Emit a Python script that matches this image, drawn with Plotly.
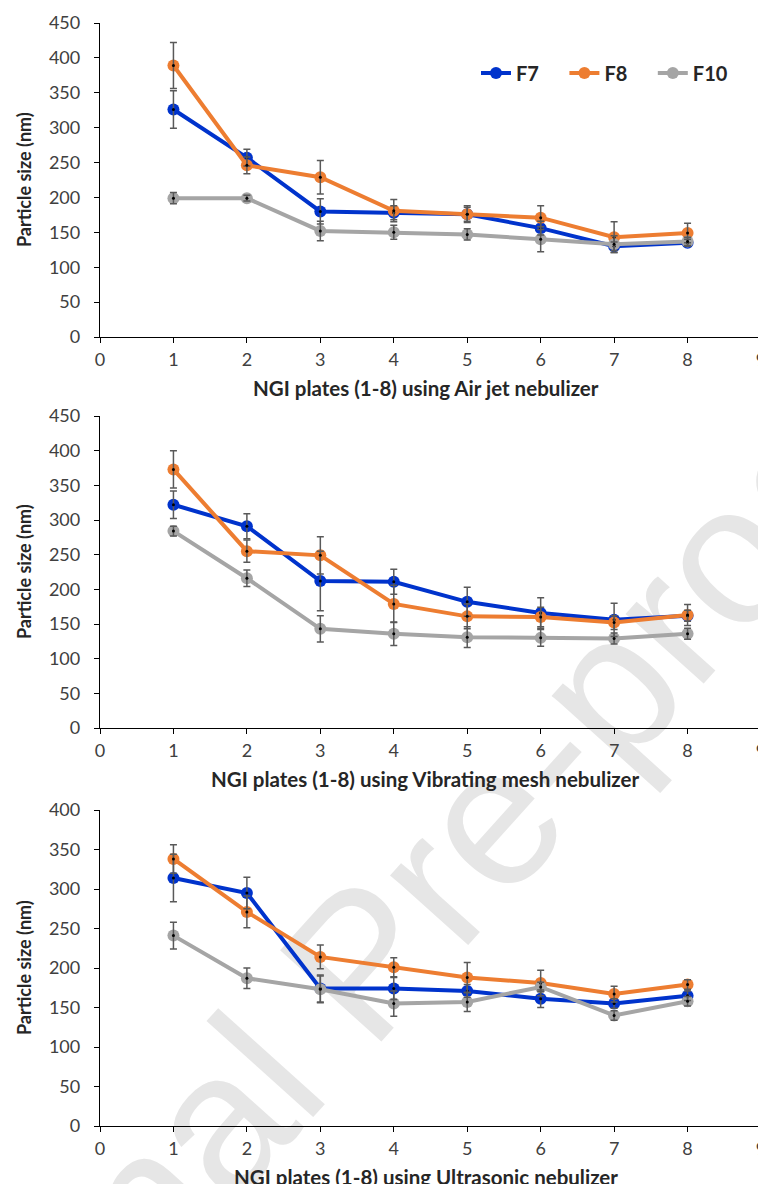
import plotly.graph_objects as go
from plotly.subplots import make_subplots

plates = [1, 2, 3, 4, 5, 6, 7, 8]
series_names = ["F7", "F8", "F10"]
colors = ["#0033CC", "#ED7D31", "#A5A5A5"]

# Panel 1: Air jet nebulizer
air_f7 = [326, 257, 180, 178, 176, 156, 130, 135]
air_f7_err = [27, 12, 18, 10, 10, 10, 6, 5]
air_f8 = [389, 246, 229, 181, 176, 171, 143, 149]
air_f8_err = [33, 12, 24, 16, 12, 17, 22, 14]
air_f10 = [199, 199, 152, 150, 147, 140, 133, 137]
air_f10_err = [8, 4, 14, 10, 8, 18, 12, 6]

# Panel 2: Vibrating mesh nebulizer
vm_f7 = [322, 291, 212, 211, 182, 166, 156, 162]
vm_f7_err = [20, 18, 43, 18, 21, 22, 24, 8]
vm_f8 = [373, 255, 249, 179, 161, 160, 152, 163]
vm_f8_err = [27, 16, 27, 27, 18, 14, 10, 15]
vm_f10 = [284, 216, 143, 136, 131, 130, 129, 136]
vm_f10_err = [7, 12, 19, 17, 15, 12, 8, 8]

# Panel 3: Ultrasonic nebulizer
us_f7 = [314, 295, 174, 174, 171, 161, 155, 165]
us_f7_err = [30, 20, 17, 14, 8, 11, 6, 6]
us_f8 = [338, 271, 214, 201, 188, 181, 167, 179]
us_f8_err = [18, 20, 15, 12, 19, 16, 10, 6]
us_f10 = [241, 187, 173, 155, 157, 176, 140, 158]
us_f10_err = [17, 13, 17, 16, 12, 6, 6, 6]

x_titles = [
    "NGI plates (1-8) using Air jet nebulizer",
    "NGI plates (1-8) using Vibrating mesh nebulizer",
    "NGI plates (1-8) using Ultrasonic nebulizer",
]
y_title = "Particle size (nm)"
y_max = [450, 450, 400]

panels = [
    [(air_f7, air_f7_err), (air_f8, air_f8_err), (air_f10, air_f10_err)],
    [(vm_f7, vm_f7_err), (vm_f8, vm_f8_err), (vm_f10, vm_f10_err)],
    [(us_f7, us_f7_err), (us_f8, us_f8_err), (us_f10, us_f10_err)],
]

W, H = 766, 1184
OFF = 8  # page body margin
FONT = "Lato"
NB = "\u00a0"


def px(xp):
    return (xp - OFF) / W


def py(yp):
    return 1 - (yp - OFF) / H


fig = make_subplots(rows=3, cols=1)

for p, panel in enumerate(panels):
    row = p + 1
    for s, (vals, errs) in enumerate(panel):
        label = f"<b>{series_names[s]}</b>" + (NB * 4 if s < 2 else "")
        fig.add_trace(go.Scatter(
            x=plates, y=vals, mode="lines+markers", name=label,
            line=dict(color=colors[s], width=4),
            marker=dict(color=colors[s], size=12, line=dict(width=0)),
            showlegend=(p == 0), legendgroup=series_names[s],
        ), row=row, col=1)
    for s, (vals, errs) in enumerate(panel):
        fig.add_trace(go.Scatter(
            x=plates, y=vals, mode="markers",
            marker=dict(color="black", size=3),
            error_y=dict(type="data", array=errs, visible=True,
                         color="#595959", thickness=1.5, width=3.5),
            showlegend=False, legendgroup=series_names[s], hoverinfo="skip",
        ), row=row, col=1)

# plot-area page-pixel positions (top, bottom) of each panel
plot_px = [(23, 337), (416, 728), (810, 1126)]
x_left, x_right = 100, 761

axis_common = dict(
    showline=True, linecolor="black", linewidth=1.3, ticks="outside",
    ticklen=5, tickcolor="black", showgrid=False, zeroline=False,
    automargin=False,
    tickfont=dict(family=FONT, size=18, color="#404040"),
)
for p in range(3):
    top, bot = plot_px[p]
    xa = "xaxis" if p == 0 else f"xaxis{p+1}"
    ya = "yaxis" if p == 0 else f"yaxis{p+1}"
    fig.layout[xa].update(
        domain=[px(x_left), px(x_right)], range=[0, 9], dtick=1, tick0=0,
        ticklabelstandoff=1, **axis_common)
    fig.layout[ya].update(
        domain=[py(bot), py(top)], range=[0, y_max[p]], dtick=50,
        tick0=0, ticklabelstandoff=10, **axis_common)
    # axis titles
    fig.add_annotation(
        x=px(426), y=py(bot + 51),
        xref="paper", yref="paper", text=f"<b>{x_titles[p]}</b>",
        showarrow=False, xanchor="center", yanchor="middle",
        font=dict(family=FONT, size=20.5, color="#262626"))
    fig.add_annotation(
        x=px(24), y=py((top + bot) / 2),
        xref="paper", yref="paper", text=f"<b>{y_title}</b>",
        showarrow=False, xanchor="center", yanchor="middle", textangle=-90,
        font=dict(family=FONT, size=18, color="#262626"))

# watermark
cx, cy = 346, 950
fig.add_shape(
    type="rect", xref="paper", yref="paper",
    x0=px(cx - 50), x1=px(cx + 50), y0=py(cy + 50), y1=py(cy - 50),
    line=dict(width=0), fillcolor="rgba(0,0,0,0)", layer="below",
    label=dict(text="Journal Pre-proof", textangle=-48,
               font=dict(family="Liberation Sans", size=198, color="#E6E6E6"),
               textposition="middle center"),
)

fig.update_layout(
    width=W, height=H, margin=dict(l=0, r=0, t=0, b=0),
    paper_bgcolor="white", plot_bgcolor="rgba(0,0,0,0)",
    showlegend=True,
    legend=dict(orientation="h", x=px(476), y=py(73), xanchor="left",
                yanchor="middle", bgcolor="rgba(0,0,0,0)",
                font=dict(family=FONT, size=20, color="#262626"),
                itemwidth=30, tracegroupgap=0),
)

fig.write_html("out.html")
